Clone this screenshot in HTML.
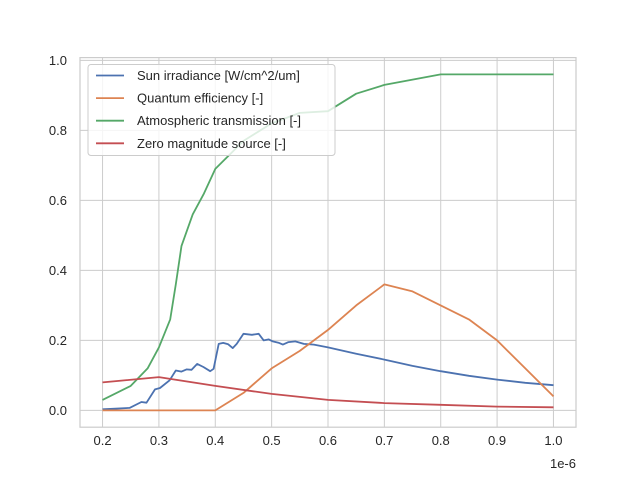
<!DOCTYPE html>
<html><head><meta charset="utf-8"><style>body{margin:0;background:#fff}svg{font-family:"Liberation Sans","DejaVu Sans",sans-serif}</style></head>
<body>
<svg id="c" width="640" height="480"></svg>
<script>
const xTicks=[0.2,0.3,0.4,0.5,0.6,0.7,0.8,0.9,1.0];
const xTickLabels=["0.2","0.3","0.4","0.5","0.6","0.7","0.8","0.9","1.0"];
const yTicks=[0,0.2,0.4,0.6,0.8,1.0];
const yTickLabels=["0.0","0.2","0.4","0.6","0.8","1.0"];
const seriesNames=["Sun irradiance [W/cm^2/um]","Quantum efficiency [-]","Atmospheric transmission [-]","Zero magnitude source [-]"];
const sunX=[0.2,0.248,0.269,0.278,0.293,0.302,0.319,0.330,0.340,0.349,0.358,0.368,0.379,0.391,0.397,0.406,0.414,0.423,0.431,0.438,0.450,0.465,0.477,0.486,0.495,0.502,0.513,0.520,0.530,0.542,0.557,0.575,0.6,0.65,0.7,0.75,0.8,0.85,0.9,0.95,1.0];
const sunY=[0.003,0.007,0.024,0.022,0.06,0.064,0.086,0.114,0.111,0.117,0.116,0.133,0.124,0.112,0.119,0.19,0.193,0.189,0.178,0.19,0.219,0.216,0.219,0.2,0.203,0.197,0.193,0.188,0.195,0.197,0.19,0.188,0.18,0.162,0.145,0.127,0.112,0.099,0.088,0.079,0.072];
const qeX=[0.2,0.4,0.45,0.5,0.55,0.6,0.65,0.7,0.75,0.8,0.85,0.9,0.95,1.0];
const qeY=[0,0,0.05,0.12,0.17,0.23,0.30,0.36,0.34,0.30,0.26,0.20,0.12,0.04];
const atX=[0.2,0.25,0.28,0.3,0.32,0.33,0.34,0.36,0.38,0.4,0.45,0.5,0.55,0.6,0.65,0.7,0.8,0.9,1.0];
const atY=[0.03,0.07,0.12,0.18,0.26,0.36,0.47,0.56,0.62,0.69,0.77,0.82,0.85,0.855,0.905,0.93,0.96,0.96,0.96];
const zmX=[0.2,0.3,0.4,0.5,0.6,0.7,0.8,0.9,1.0];
const zmY=[0.08,0.095,0.07,0.047,0.03,0.021,0.016,0.011,0.009];
const colors=["#4c72b0","#dd8452","#55a868","#c44e52"];
const L=80,R=576,T=57.6,B=427.2,x0=0.16,x1=1.04,y0=-0.048,y1=1.008;
const sx=v=>L+(v-x0)/(x1-x0)*(R-L), sy=v=>B-(v-y0)/(y1-y0)*(B-T);
const svg=document.getElementById('c'),NS="http://www.w3.org/2000/svg";
function mk(t,a,p){const e=document.createElementNS(NS,t);for(const k in a)e.setAttribute(k,a[k]);(p||svg).appendChild(e);return e;}
let bg=mk('rect',{x:L,y:T,width:R-L,height:B-T,fill:'#fff'});


xTicks.forEach((v,i)=>{
 let g=mk('line',{x1:sx(v),x2:sx(v),y1:T,y2:B,stroke:'#cccccc','stroke-width':1});
 
 
 let t=mk('text',{x:sx(v),y:B+18,'text-anchor':'middle','font-size':'13',fill:'#262626'});t.textContent=xTickLabels[i];
 
 
});
yTicks.forEach((v,i)=>{
 let g=mk('line',{x1:L,x2:R,y1:sy(v),y2:sy(v),stroke:'#cccccc','stroke-width':1});
 
 
 let t=mk('text',{x:L-13,y:sy(v)+4.5,'text-anchor':'end','font-size':'13',fill:'#262626'});t.textContent=yTickLabels[i];
 
 
});
let fr=mk('rect',{x:L,y:T,width:R-L,height:B-T,fill:'none',stroke:'#cccccc','stroke-width':1.2});


let off=mk('text',{x:R,y:B+41,'text-anchor':'end','font-size':'13',fill:'#262626'});off.textContent='1e-6';


const data=[[sunX,sunY],[qeX,qeY],[atX,atY],[zmX,zmY]];
const names=['sun-irradiance-line','quantum-efficiency-line','atmospheric-transmission-line','zero-magnitude-line'];
data.forEach((d,i)=>{
 const pts=d[0].map((x,j)=>sx(x).toFixed(1)+','+sy(d[1][j]).toFixed(1)).join(' ');
 let p=mk('polyline',{points:pts,fill:'none',stroke:colors[i],'stroke-width':1.8,'stroke-linejoin':'round'});
 
 
});
let lg=mk('g',{});


mk('rect',{x:88,y:64.5,width:247,height:91,rx:3,fill:'#fff','fill-opacity':0.8,stroke:'#cccccc'},lg);
seriesNames.forEach((n,i)=>{
 const y=75.5+i*22.6;
 let l=mk('line',{x1:96,x2:124,y1:y,y2:y,stroke:colors[i],'stroke-width':1.8},lg);
 
 
 let t=mk('text',{x:137,y:y+4.5,'font-size':'13',fill:'#262626'},lg);t.textContent=n;
 
 
});
</script>
</body></html>
